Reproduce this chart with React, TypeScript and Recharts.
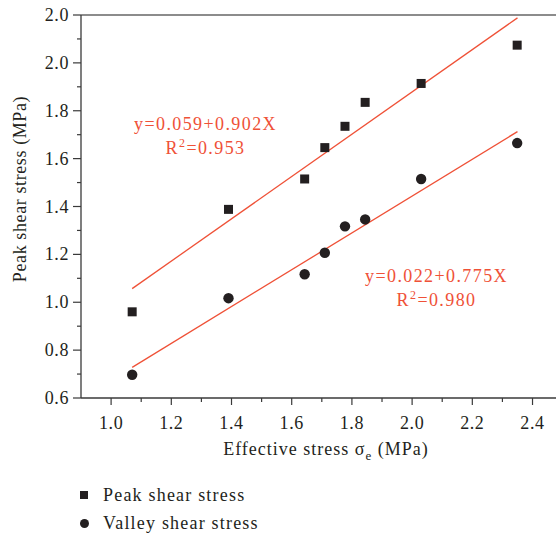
import { ScatterChart, Scatter, XAxis, YAxis, ReferenceLine } from 'recharts';

const peakX = [1.07, 1.39, 1.643, 1.71, 1.777, 1.844, 2.03, 2.349];
const peakY = [0.96, 1.388, 1.515, 1.646, 1.735, 1.835, 1.914, 2.074];
const valleyX = [1.07, 1.39, 1.643, 1.71, 1.777, 1.844, 2.03, 2.349];
const valleyY = [0.697, 1.017, 1.117, 1.207, 1.317, 1.346, 1.515, 1.665];

// fitted lines as drawn (end points)
const peakFitX = [1.07, 2.35];
const peakFitY = [1.057, 2.188];
const valleyFitX = [1.07, 2.35];
const valleyFitY = [0.728, 1.713];

const xMajorTicks = [1.0, 1.2, 1.4, 1.6, 1.8, 2.0, 2.2, 2.4];
const xMinorTicks = [1.1, 1.3, 1.5, 1.7, 1.9, 2.1, 2.3];
const yMajorTicks = [0.6, 0.8, 1.0, 1.2, 1.4, 1.6, 1.8, 2.0, 2.2];
const yMajorLabels = ['0.6', '0.8', '1.0', '1.2', '1.4', '1.6', '1.8', '2.0', '2.0'];
const yMinorTicks = [0.7, 0.9, 1.1, 1.3, 1.5, 1.7, 1.9, 2.1];

const zip = (xs: number[], ys: number[]) => xs.map((x, i) => ({ x, y: ys[i] }));
const peakData = zip(peakX, peakY);
const valleyData = zip(valleyX, valleyY);
const peakFit = zip(peakFitX, peakFitY);
const valleyFit = zip(valleyFitX, valleyFitY);

const FONT = '"Liberation Serif", "Times New Roman", serif';
const INK = '#231f20';
const RED = '#ef5137';
const AXIS = '#3a3a3a';

const XTick = ({ x, y, payload }: any) => {
  const major = xMajorTicks.includes(payload.value);
  return (
    <g>
      <line x1={x} y1={y} x2={x} y2={y + (major ? 7 : 4)} stroke={AXIS} strokeWidth={1.2} />
      {major && (
        <text x={x} y={y + 31} textAnchor="middle" fontSize={18} letterSpacing={0.6} fill={INK} fontFamily={FONT}>
          {payload.value.toFixed(1)}
        </text>
      )}
    </g>
  );
};

const YTick = ({ x, y, payload }: any) => {
  const idx = yMajorTicks.indexOf(payload.value);
  const major = idx >= 0;
  return (
    <g>
      <line x1={x - (major ? 8 : 4)} y1={y} x2={x} y2={y} stroke={AXIS} strokeWidth={1.2} />
      {major && (
        <text x={x - 12} y={y + 6} textAnchor="end" fontSize={18} letterSpacing={0.6} fill={INK} fontFamily={FONT}>
          {yMajorLabels[idx]}
        </text>
      )}
    </g>
  );
};

const Square = ({ cx, cy }: any) => <rect x={cx - 4.5} y={cy - 4.5} width={9} height={9} fill={INK} />;
const Dot = ({ cx, cy }: any) => <circle cx={cx} cy={cy} r={5.2} fill={INK} />;
const NoShape = () => <g />;

export default function App() {
  return (
    <div style={{ position: 'absolute', left: 0, top: 0, width: 556, height: 535, background: '#fff', fontFamily: FONT }}>
      <ScatterChart width={556} height={535} margin={{ top: 15, right: 0, bottom: 0, left: 0 }}>
        <XAxis
          type="number"
          dataKey="x"
          domain={[0.9, 2.478]}
          allowDataOverflow
          ticks={[...xMajorTicks, ...xMinorTicks].sort((a, b) => a - b)}
          tick={<XTick />}
          tickLine={false}
          tickSize={0}
          tickMargin={0}
          height={137}
          axisLine={{ stroke: AXIS, strokeWidth: 1.3 }}
          label={{
            content: () => (
              <text x={326} y={455} textAnchor="middle" fontSize={18} letterSpacing={1} fill={INK} fontFamily={FONT}>
                Effective stress σ<tspan fontSize={13} dy={5}>e</tspan>
                <tspan dy={-5}> (MPa)</tspan>
              </text>
            ),
          }}
        />
        <YAxis
          type="number"
          dataKey="y"
          domain={[0.6, 2.2]}
          allowDataOverflow
          ticks={[...yMajorTicks, ...yMinorTicks].sort((a, b) => a - b)}
          tick={<YTick />}
          tickLine={false}
          tickSize={0}
          tickMargin={0}
          width={81}
          axisLine={{ stroke: AXIS, strokeWidth: 1.3 }}
          label={{
            content: () => (
              <text
                x={26}
                y={189}
                transform="rotate(-90 26 189)"
                textAnchor="middle"
                fontSize={18}
                letterSpacing={0.6}
                fill={INK}
                fontFamily={FONT}
              >
                Peak shear stress (MPa)
              </text>
            ),
          }}
        />
        <ReferenceLine y={2.2} stroke="#666" strokeWidth={1.5} />
        <Scatter data={peakFit} line={{ stroke: RED, strokeWidth: 1.3 }} shape={<NoShape />} isAnimationActive={false} legendType="none" />
        <Scatter data={valleyFit} line={{ stroke: RED, strokeWidth: 1.3 }} shape={<NoShape />} isAnimationActive={false} legendType="none" />
        <Scatter name="Peak shear stress" data={peakData} shape={<Square />} isAnimationActive={false} />
        <Scatter name="Valley shear stress" data={valleyData} shape={<Dot />} isAnimationActive={false} />
      </ScatterChart>

      <div style={{ position: 'absolute', left: 125, top: 112, width: 161, color: RED, fontSize: 18, letterSpacing: 1.4, lineHeight: '24px', textAlign: 'center' }}>
        y=0.059+0.902X
        <br />
        R<sup style={{ fontSize: 12, lineHeight: 0 }}>2</sup>=0.953
      </div>
      <div style={{ position: 'absolute', left: 356, top: 264, width: 161, color: RED, fontSize: 18, letterSpacing: 1.4, lineHeight: '24px', textAlign: 'center' }}>
        y=0.022+0.775X
        <br />
        R<sup style={{ fontSize: 12, lineHeight: 0 }}>2</sup>=0.980
      </div>

      <div style={{ position: 'absolute', left: 80, top: 481, color: INK, fontSize: 18, letterSpacing: 1.2, lineHeight: '28px' }}>
        <div style={{ display: 'flex', alignItems: 'center' }}>
          <span style={{ display: 'inline-block', width: 8, height: 8, background: INK, marginRight: 15 }} />
          Peak shear stress
        </div>
        <div style={{ display: 'flex', alignItems: 'center' }}>
          <span style={{ display: 'inline-block', width: 9, height: 9, borderRadius: '50%', background: INK, marginRight: 14 }} />
          Valley shear stress
        </div>
      </div>
    </div>
  );
}
